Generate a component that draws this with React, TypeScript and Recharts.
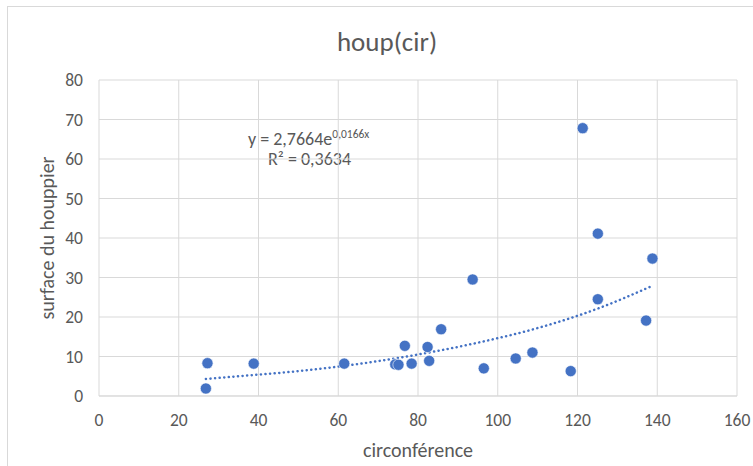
import React from 'react';
import { ComposedChart, Scatter, Line, XAxis, YAxis, CartesianGrid } from 'recharts';

// circonférence / surface du houppier
const circumference = [121.3, 125.1, 138.8, 93.7, 125.1, 137.2, 85.8, 76.7, 82.4, 82.8, 78.4, 74.3, 75.1, 96.5, 104.5, 108.7, 118.3, 27.2, 26.8, 38.8, 61.5];
const crownArea = [67.8, 41.1, 34.8, 29.5, 24.5, 19.1, 16.9, 12.7, 12.4, 8.9, 8.2, 8.0, 7.9, 7.0, 9.5, 11.0, 6.3, 8.3, 1.9, 8.2, 8.2];

// exponential trendline, points
const trendX = [26.8, 35, 50, 65, 80, 95, 110, 125, 138.8];
const trendY = [4.3, 5.0, 6.3, 8.1, 10.5, 13.5, 17.2, 22.1, 27.9];

const xTicks = [0, 20, 40, 60, 80, 100, 120, 140, 160];
const yTicks = [0, 10, 20, 30, 40, 50, 60, 70, 80];

const points = circumference.map((x, i) => ({ x, y: crownArea[i] }));
const trend = trendX.map((x, i) => ({ x, t: trendY[i] }));

const FONT = 'Carlito, Calibri, "Open Sans", "Noto Sans", sans-serif';
const BLUE = '#4472C4';
const TEXT = '#595959';

const Dot = (props: any) => {
  const { cx, cy } = props;
  if (cx == null || cy == null) return null;
  return <circle cx={cx} cy={cy} r={5.6} fill={BLUE} stroke="#ffffff" strokeWidth={0.6} />;
};

export default function App() {
  return (
    <div style={{ position: 'absolute', left: 0, top: 0, width: 753, height: 466, background: '#fff', fontFamily: FONT, overflow: 'hidden' }}>
      {/* outer chart frame */}
      <div style={{ position: 'absolute', left: 7, top: 6, width: 760, height: 470, borderTop: '1px solid #d9d9d9', borderLeft: '1px solid #d9d9d9' }} />
      <div style={{ position: 'absolute', left: 0, top: 25, width: 774, textAlign: 'center', fontSize: 27, color: TEXT, lineHeight: '33px' }}>
        houp(cir)
      </div>
      <div style={{ position: 'absolute', left: 248, top: 128, fontSize: 18, color: TEXT, whiteSpace: 'nowrap', lineHeight: '22px' }}>
        y = 2,7664e<span style={{ fontSize: 11.5, position: 'relative', top: -7 }}>0,0166x</span>
      </div>
      <div style={{ position: 'absolute', left: 268, top: 148, fontSize: 18, color: TEXT, whiteSpace: 'nowrap', lineHeight: '22px' }}>
        R² = 0,3634
      </div>
      <div style={{ position: 'absolute', left: 0, top: 438, width: 836, textAlign: 'center', fontSize: 20, color: TEXT, lineHeight: '24px' }}>
        circonférence
      </div>
      <div style={{ position: 'absolute', left: 47, top: 238, width: 0, height: 0 }}>
        <div style={{ position: 'absolute', left: -120, top: -12, width: 240, textAlign: 'center', fontSize: 20, color: TEXT, transform: 'rotate(-90deg)', whiteSpace: 'nowrap', lineHeight: '24px' }}>
          surface du houppier
        </div>
      </div>
      <div style={{ position: 'absolute', left: 0, top: 0 }}>
        <ComposedChart width={753} height={466} margin={{ top: 80, right: 16, bottom: 40, left: 59 }}>
          <CartesianGrid stroke="#d9d9d9" strokeWidth={1} horizontalValues={yTicks} verticalValues={xTicks} />
          <XAxis
            type="number"
            dataKey="x"
            domain={[0, 160]}
            ticks={xTicks}
            height={30}
            tickLine={false}
            axisLine={{ stroke: '#d9d9d9' }}
            tickMargin={12}
            tick={{ fill: TEXT, fontSize: 17.5, fontFamily: FONT }}
            allowDataOverflow
          />
          <YAxis
            type="number"
            dataKey="y"
            domain={[0, 80]}
            ticks={yTicks}
            width={40}
            tickLine={false}
            axisLine={false}
            tickMargin={10}
            tick={{ fill: TEXT, fontSize: 17.5, fontFamily: FONT }}
            allowDataOverflow
          />
          <Line
            data={trend}
            dataKey="t"
            type="monotone"
            stroke={BLUE}
            strokeWidth={2.5}
            strokeDasharray="0.1 4.5"
            strokeLinecap="round"
            dot={false}
            activeDot={false}
            isAnimationActive={false}
          />
          <Scatter data={points} dataKey="y" shape={Dot} isAnimationActive={false} />
        </ComposedChart>
      </div>
    </div>
  );
}
